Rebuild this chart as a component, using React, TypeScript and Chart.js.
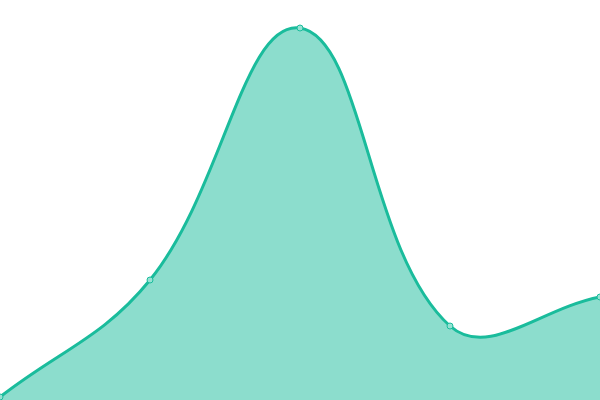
import React, { useEffect, useRef } from 'react';
import Chart from 'chart.js/auto';

const labels: string[] = ['A', 'B', 'C', 'D', 'E'];
const values: number[] = [0.75, 30, 93, 18.5, 25.75];

const App: React.FC = () => {
  const chartRef = useRef<HTMLCanvasElement>(null);
  const chartInstance = useRef<Chart | null>(null);

  useEffect(() => {
    document.body.style.margin = '0';
    if (chartInstance.current) {
      chartInstance.current.destroy();
    }
    if (chartRef.current) {
      const ctx = chartRef.current.getContext('2d');
      if (ctx) {
        chartInstance.current = new Chart(ctx, {
          type: 'line',
          data: {
            labels: labels,
            datasets: [
              {
                data: values,
                fill: true,
                tension: 0.4,
                borderColor: 'rgb(26, 188, 156)',
                backgroundColor: 'rgba(26, 188, 156, 0.5)',
                borderWidth: 3,
                pointRadius: 3,
                pointBorderWidth: 1,
                pointBackgroundColor: 'rgb(150, 226, 211)',
                pointBorderColor: 'rgb(26, 188, 156)',
              },
            ],
          },
          options: {
            animation: false,
            responsive: false,
            layout: { padding: 0, autoPadding: false },
            plugins: { legend: { display: false }, tooltip: { enabled: false } },
            scales: {
              x: { display: false },
              y: { display: false, min: 0, max: 100 },
            },
          },
        });
      }
    }
    return () => {
      if (chartInstance.current) {
        chartInstance.current.destroy();
        chartInstance.current = null;
      }
    };
  }, []);

  return (
    <div style={{ width: 600, height: 400 }}>
      <canvas ref={chartRef} width={600} height={400} style={{ display: 'block' }}></canvas>
    </div>
  );
};

export default App;
